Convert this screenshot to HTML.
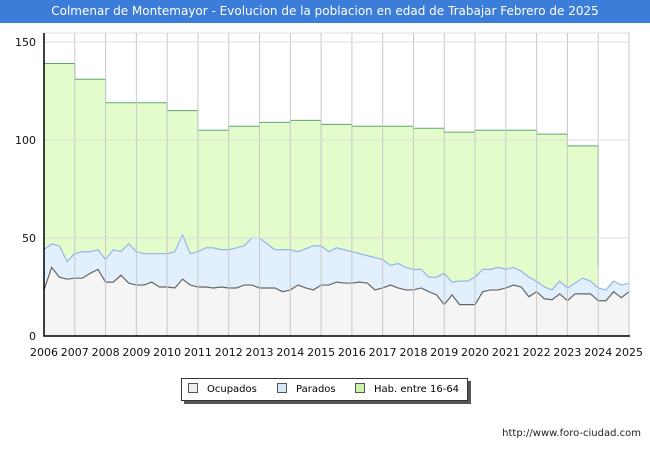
<!DOCTYPE html>
<html><head><meta charset="utf-8"><style>
body{margin:0;width:650px;height:450px;background:#fff;font-family:"DejaVu Sans","Liberation Sans",sans-serif;overflow:hidden;position:relative}
#title{position:absolute;left:0;top:0;width:650px;height:23px;background:#3b7dd8;color:#fff;font-size:12px;line-height:23px;text-align:center;white-space:nowrap}
#legend{position:absolute;left:181px;top:378px;width:285px;height:21px;border:1px solid #333;background:#fff;box-shadow:3px 3px 0 #555;font-size:10px;line-height:21px;white-space:nowrap}
.li{position:absolute;top:0;white-space:nowrap}
.sw{display:inline-block;width:8px;height:8px;border:1px solid #555;margin-right:9px;vertical-align:-1px}
#url{position:absolute;right:9px;top:428px;font-size:10px;color:#222}
</style></head><body>
<div id="title">Colmenar de Montemayor - Evolucion de la poblacion en edad de Trabajar Febrero de 2025</div>
<svg id="chart" width="650" height="450" style="position:absolute;left:0;top:0"></svg>
<div id="legend">
<span class="li" style="left:6px"><span class="sw" style="background:#eeeeee"></span>Ocupados</span>
<span class="li" style="left:95px"><span class="sw" style="background:#d6e8fb"></span>Parados</span>
<span class="li" style="left:173px"><span class="sw" style="background:#ccf5a8"></span>Hab. entre 16-64</span>
</div>
<div id="url">http://www.foro-ciudad.com</div>
<script>
const years=[2006,2007,2008,2009,2010,2011,2012,2013,2014,2015,2016,2017,2018,2019,2020,2021,2022,2023,2024,2025];
const yTicks=[0,50,100,150];
const habYears=[2006,2007,2008,2009,2010,2011,2012,2013,2014,2015,2016,2017,2018,2019,2020,2021,2022,2023];
const habValues=[139,131,119,119,115,105,107,109,110,108,107,107,106,104,105,105,103,97];
const habEndValue=36;
const quarterStart=2006;
const parados=[44,47,46,38, 42,43,43,44, 39,44,43,47, 43,42,42,42, 42,43,51.5,42, 43,45,45,44, 44,45,46,50, 50,47,44,44, 44,43,44.5,46, 46,43,45,44, 43,42,41,40, 39,36,37,35, 34,34,30,30, 32,27.5,28,28, 30,34,34,35, 34,35,33,30, 28,25,23.5,28, 24.5,27,29.5,28, 24.5,23.5,28,26, 27];
const ocupados=[23.5,35,30,29, 29.5,29.5,32,34, 27.5,27.5,31,27, 26,26,27.5,25, 25,24.5,29,26, 25,25,24.5,25, 24.5,24.5,26,26, 24.5,24.5,24.5,22.6, 23.5,26,24.5,23.5, 26,26,27.5,27, 27,27.5,27,23.5, 24.5,26,24.5,23.5, 23.5,24.5,22.6,21, 16,21,16,16, 16,22.6,23.5,23.5, 24.5,26,25,20, 22.6,19,18.5,21.5, 18,21.5,21.5,21.5, 18,18,22.6,19.5, 22.6];
const X0=44,X1=629,Y0=336,YT=42;
const sx=t=>X0+(t-2006)*(X1-X0)/19;
const sy=v=>Y0-v*(Y0-YT)/150;
const svg=document.getElementById('chart');
const NS='http://www.w3.org/2000/svg';
function mk(tag,attrs){const e=document.createElementNS(NS,tag);for(const k in attrs)e.setAttribute(k,attrs[k]);svg.appendChild(e);return e;}
let r=mk('rect',{x:X0,y:33,width:X1-X0,height:Y0-33,fill:'#fff',stroke:'#ddd'});


let hp=`M${sx(2006)},${Y0}`;
habYears.forEach((y,i)=>{hp+=` L${sx(y)},${sy(habValues[i])} L${sx(y+1)},${sy(habValues[i])}`;});
hp+=` L${sx(2024)},${sy(habEndValue)} L${sx(2024)},${Y0} Z`;
let ha=mk('path',{d:hp,fill:'#e4fccc',stroke:'none'});


let hl='';
habYears.forEach((y,i)=>{hl+=`${i?'L':'M'}${sx(y)},${sy(habValues[i])} L${sx(y+1)},${sy(habValues[i])} `;});
hl+=`L${sx(2024)},${sy(habEndValue)}`;
let hline=mk('path',{d:hl,fill:'none',stroke:'#5aa86a','stroke-width':1});


function series(arr,fill,stroke,name){
 const pts=arr.map((v,i)=>`${sx(quarterStart+i/4)},${sy(v)}`);
 let a=mk('path',{d:`M${sx(quarterStart)},${Y0} L`+pts.join(' L')+` L${sx(quarterStart+(arr.length-1)/4)},${Y0} Z`,fill:fill});
 
 
 let l=mk('path',{d:'M'+pts.join(' L'),fill:'none',stroke:stroke,'stroke-width':1.2});
 
 
}
series(parados,'#e2f0fe','#93b4ea','parados');
series(ocupados,'#f5f5f5','#666','ocupados');
years.forEach(y=>{
 if(y>2006){let g=mk('line',{x1:sx(y),x2:sx(y),y1:33,y2:Y0,stroke:'#c8c8c8'});
 
 }
 let t=mk('text',{x:sx(y),y:356,'font-size':11,'text-anchor':'middle',fill:'#111','font-family':'DejaVu Sans, sans-serif'});t.textContent=y;
 
 
});
yTicks.forEach(v=>{
 if(v>0){let g=mk('line',{x1:X0,x2:X1,y1:sy(v),y2:sy(v),stroke:'#ddd'});
 
 }
 let t=mk('text',{x:36,y:sy(v)+4,'font-size':11,'text-anchor':'end',fill:'#111','font-family':'DejaVu Sans, sans-serif'});t.textContent=v;
 
 
});
let ax=mk('path',{d:`M${X0},33 L${X0},${Y0} L${X1+1},${Y0}`,fill:'none',stroke:'#000','stroke-width':1.5});


</script>
</body></html>
